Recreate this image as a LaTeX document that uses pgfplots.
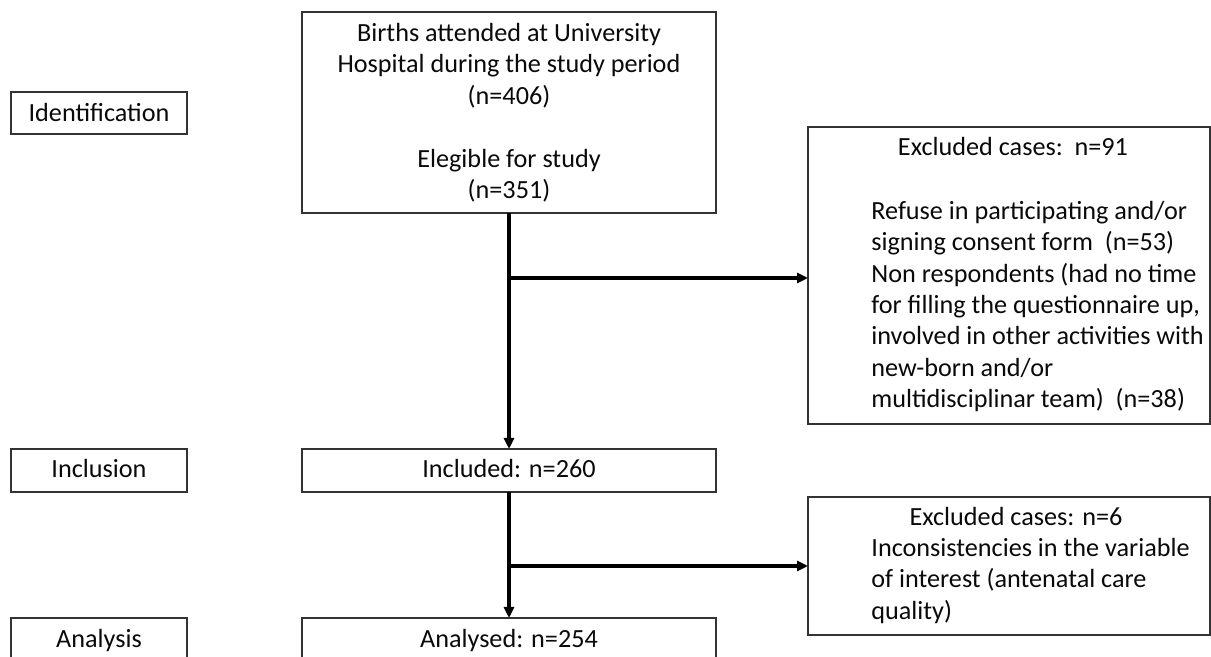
\documentclass[border=0pt]{standalone}
\usepackage{fontspec}
\setmainfont{Carlito}
\usepackage{pgfplots}
\pgfplotsset{compat=1.18}
\usetikzlibrary{arrows.meta}
\definecolor{boxline}{HTML}{333333}
\definecolor{txtc}{HTML}{0A0A0A}
\begin{document}
\begin{tikzpicture}
\begin{axis}[scale only axis, width=605.5pt, height=328.5pt,
  xmin=0, xmax=1211, ymin=0, ymax=657, y dir=reverse, hide axis, clip=true]
\tikzset{
  bx/.style={draw=boxline, line width=0.9pt, fill=white},
  txt/.style={inner sep=0pt, font=\fontsize{13.1}{15.75}\selectfont, text=txtc},
  arr/.style={line width=1.6pt, black, -{Triangle[length=5.5pt,width=5pt]}}
}
% boxes
\draw[bx] (axis cs:11,92) rectangle (axis cs:187,134);
\draw[bx] (axis cs:302,12) rectangle (axis cs:716,213);
\draw[bx] (axis cs:808,127) rectangle (axis cs:1210,424);
\draw[bx] (axis cs:11,449) rectangle (axis cs:187,492);
\draw[bx] (axis cs:302,449) rectangle (axis cs:716,492);
\draw[bx] (axis cs:808,497) rectangle (axis cs:1210,635);
\draw[bx] (axis cs:11,618) rectangle (axis cs:187,690);
\draw[bx] (axis cs:302,618) rectangle (axis cs:716,690);
% arrows
\addplot[arr] coordinates {(509,213) (509,449)};
\addplot[arr] coordinates {(509,278) (808,278)};
\addplot[arr] coordinates {(509,492) (509,618)};
\addplot[arr] coordinates {(509,566) (808,566)};
% texts
\node[txt, anchor=base] at (axis cs:99,122) {Identification};
\node[txt, anchor=base] at (axis cs:509,42) {Births attended at University};
\node[txt, anchor=base] at (axis cs:509,73) {Hospital during the study period};
\node[txt, anchor=base] at (axis cs:509,105) {(n=406)};
\node[txt, anchor=base] at (axis cs:509,168) {Elegible for study};
\node[txt, anchor=base] at (axis cs:509,199) {(n=351)};
\node[txt, anchor=base] at (axis cs:1013,156) {Excluded cases:\ \ n=91};
\node[txt, anchor=base west] at (axis cs:871,220) {Refuse in participating and/or};
\node[txt, anchor=base west] at (axis cs:871,251) {signing consent form\ \ (n=53)};
\node[txt, anchor=base west] at (axis cs:871,283) {Non respondents (had no time};
\node[txt, anchor=base west] at (axis cs:871,314) {for filling the questionnaire up,};
\node[txt, anchor=base west] at (axis cs:871,345) {involved in other activities with};
\node[txt, anchor=base west] at (axis cs:871,377) {new-born and/or};
\node[txt, anchor=base west] at (axis cs:871,408) {multidisciplinar team)\ \ (n=38)};
\node[txt, anchor=base] at (axis cs:99,478) {Inclusion};
\node[txt, anchor=base] at (axis cs:509,478) {Included: n=260};
\node[txt, anchor=base] at (axis cs:1016,526) {Excluded cases: n=6};
\node[txt, anchor=base west] at (axis cs:871,557) {Inconsistencies in the variable};
\node[txt, anchor=base west] at (axis cs:871,588) {of interest (antenatal care};
\node[txt, anchor=base west] at (axis cs:871,619) {quality)};
\node[txt, anchor=base] at (axis cs:99,647) {Analysis};
\node[txt, anchor=base] at (axis cs:509,647) {Analysed: n=254};
\end{axis}
\pgfresetboundingbox
\useasboundingbox (current axis.south west) rectangle (current axis.north east);
\end{tikzpicture}
\end{document}
